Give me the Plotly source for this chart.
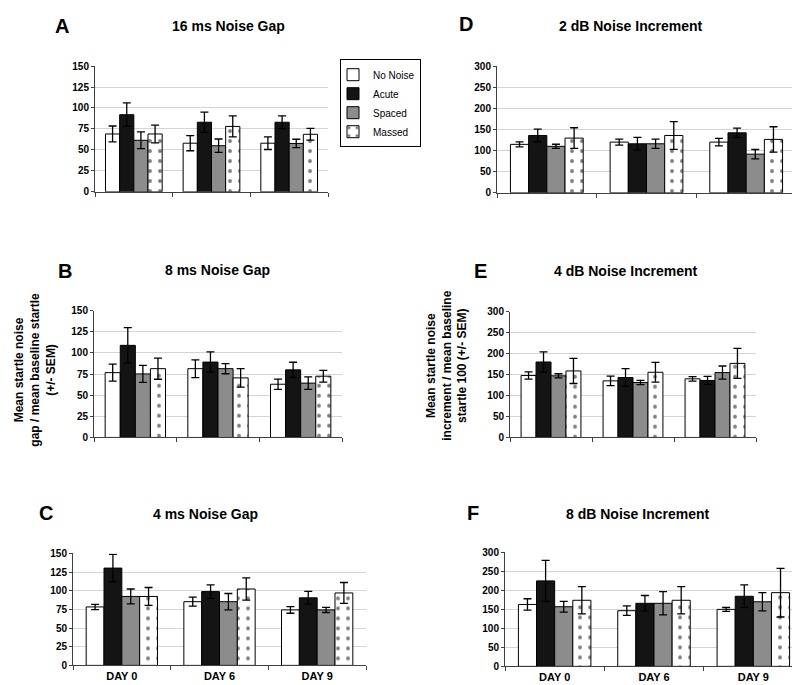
import plotly.graph_objects as go

days = ["DAY 0", "DAY 6", "DAY 9"]
groups = ["No Noise", "Acute", "Spaced", "Massed"]

# Panel A: 16 ms Noise Gap
a_vals = {"No Noise": [69, 58, 58], "Acute": [92, 83, 83], "Spaced": [61.5, 55, 57.7], "Massed": [69, 78, 68.6]}
a_err = {"No Noise": [9.5, 9, 7.5], "Acute": [14, 12, 7.5], "Spaced": [10, 8, 5], "Massed": [10.5, 12.5, 7]}
# Panel B: 8 ms Noise Gap
b_vals = {"No Noise": [76.7, 81.4, 63], "Acute": [109, 89.2, 80], "Spaced": [75.2, 81.4, 64.3], "Massed": [81.4, 70.5, 72.5]}
b_err = {"No Noise": [10, 10.5, 6], "Acute": [21, 12, 9], "Spaced": [10, 6, 7.5], "Massed": [12.5, 11, 7]}
# Panel C: 4 ms Noise Gap
c_vals = {"No Noise": [78.3, 85.3, 74.3], "Acute": [130.3, 98.8, 90.5], "Spaced": [92.3, 85.3, 74.3], "Massed": [92.3, 102.3, 97]}
c_err = {"No Noise": [3.5, 6, 4.5], "Acute": [18.5, 9, 8.5], "Spaced": [10, 11, 3.5], "Massed": [12, 15, 14]}
# Panel D: 2 dB Noise Increment
d_vals = {"No Noise": [114.7, 120, 120], "Acute": [135.7, 116, 142], "Spaced": [110, 116, 91.5], "Massed": [129.5, 135.7, 126.4]}
d_err = {"No Noise": [6, 7, 9], "Acute": [15, 15, 11], "Spaced": [5, 11, 11], "Massed": [24.5, 33, 30]}
# Panel E: 4 dB Noise Increment
e_vals = {"No Noise": [147.7, 135, 139.8], "Acute": [180, 143, 136], "Spaced": [147, 131, 154.7], "Massed": [158.7, 155.5, 176.7]}
e_err = {"No Noise": [8.5, 11.5, 5.5], "Acute": [24, 21, 9.5], "Spaced": [5, 5, 15.7], "Massed": [30, 23.5, 36]}
# Panel F: 8 dB Noise Increment
f_vals = {"No Noise": [163, 146.5, 150], "Acute": [225, 166, 184.5], "Spaced": [157, 166, 170], "Massed": [174, 174, 194]}
f_err = {"No Noise": [15, 12.5, 5], "Acute": [54, 20.5, 30], "Spaced": [14, 30.5, 24], "Massed": [36, 36, 64]}

W, H = 800, 685

def px_x(p):
    return p / W

def px_y(p):
    return 1 - p / H

panels = [
    # (vals, err, axis suffix, x px range, y px range (top,bottom), ymax, dtick, show x labels)
    (a_vals, a_err, "", (87, 320), (53, 181), 150, 25, False),
    (d_vals, d_err, "2", (489, 788), (53, 182), 300, 50, False),
    (b_vals, b_err, "3", (86, 334), (302, 431), 150, 25, False),
    (e_vals, e_err, "4", (502, 748), (303, 431), 300, 50, False),
    (c_vals, c_err, "5", (65, 358), (549, 663), 150, 25, True),
    (f_vals, f_err, "6", (497, 795), (548, 664), 300, 50, True),
]

styles = {
    "No Noise": dict(color="white", line=dict(color="black", width=1)),
    "Acute": dict(color="#141414", line=dict(color="black", width=1)),
    "Spaced": dict(color="#8c8c8c", line=dict(color="black", width=1)),
    "Massed": dict(color="white", line=dict(color="black", width=1),
                   pattern=dict(shape=".", fgcolor="black", bgcolor="white", size=10, solidity=0.12)),
}

fig = go.Figure()
layout = dict(
    width=W, height=H, margin=dict(l=0, r=0, t=0, b=0),
    paper_bgcolor="white", plot_bgcolor="white",
    barmode="group", bargap=0.27, bargroupgap=0,
    font=dict(family="Liberation Sans, Arial, sans-serif", color="black"),
    showlegend=True,
    legend=dict(x=px_x(332), y=px_y(46), xanchor="left", yanchor="top",
                bordercolor="black", borderwidth=1, bgcolor="white",
                font=dict(size=10, family="Liberation Sans, Arial, sans-serif"),
                itemwidth=30, tracegroupgap=0, indentation=-8),
)

for i, (vals, err, s, xr, yr, ymax, dt, showx) in enumerate(panels):
    for g in groups:
        fig.add_trace(go.Bar(
            x=days, y=vals[g], name=g,
            marker=styles[g],
            error_y=dict(type="data", array=err[g], visible=True, color="black", thickness=1.3, width=4),
            xaxis="x" + s, yaxis="y" + s,
            showlegend=(i == 0), legendgroup=g,
        ))
    layout["xaxis" + s] = dict(
        domain=[px_x(xr[0]), px_x(xr[1])], anchor="y" + s,
        type="category", categoryorder="array", categoryarray=days,
        showline=True, linecolor="#404040", linewidth=1,
        ticks="outside", tickson="boundaries", ticklen=4, tickcolor="#404040",
        showticklabels=showx, showgrid=False,
        tickfont=dict(size=11, weight="bold"),
    )
    layout["yaxis" + s] = dict(
        domain=[px_y(yr[1]), px_y(yr[0])], anchor="x" + s,
        range=[0, ymax], dtick=dt, tick0=0,
        showline=True, linecolor="#404040", linewidth=1,
        ticks="outside", ticklen=3, tickcolor="#404040",
        showgrid=True, gridcolor="#d4d4d4", gridwidth=1,
        zeroline=False,
        tickfont=dict(size=10, weight="bold"),
    )

fig.update_layout(**layout)

annos = []
letters = [("A", 54, 12), ("D", 458, 10), ("B", 57, 262), ("E", 472, 262), ("C", 38, 508), ("F", 465, 508)]
for t, x, y in letters:
    annos.append(dict(text=t, x=px_x(x), y=px_y(y), xref="paper", yref="paper", showarrow=False,
                      xanchor="center", yanchor="middle", font=dict(size=20, weight="bold")))
titles = [("16 ms Noise Gap", 220, 12), ("2 dB Noise Increment", 622, 12), ("8 ms Noise Gap", 209, 261),
          ("4 dB Noise Increment", 617, 262), ("4 ms Noise Gap", 197, 509), ("8 dB Noise Increment", 629, 509)]
for t, x, y in titles:
    annos.append(dict(text=t, x=px_x(x), y=px_y(y), xref="paper", yref="paper", showarrow=False,
                      xanchor="center", yanchor="middle", font=dict(size=14, weight="bold")))
annos.append(dict(text="Mean startle noise<br>gap / mean baseline startle<br>(+/- SEM)",
                  x=px_x(27), y=px_y(362), xref="paper", yref="paper", showarrow=False, textangle=-90,
                  xanchor="center", yanchor="middle", font=dict(size=12, weight="bold")))
annos.append(dict(text="Mean startle noise<br>increment / mean baseline<br>startle 100 (+/- SEM)",
                  x=px_x(439), y=px_y(358), xref="paper", yref="paper", showarrow=False, textangle=-90,
                  xanchor="center", yanchor="middle", font=dict(size=12, weight="bold")))
fig.update_layout(annotations=annos)

fig.write_html("out.html")
